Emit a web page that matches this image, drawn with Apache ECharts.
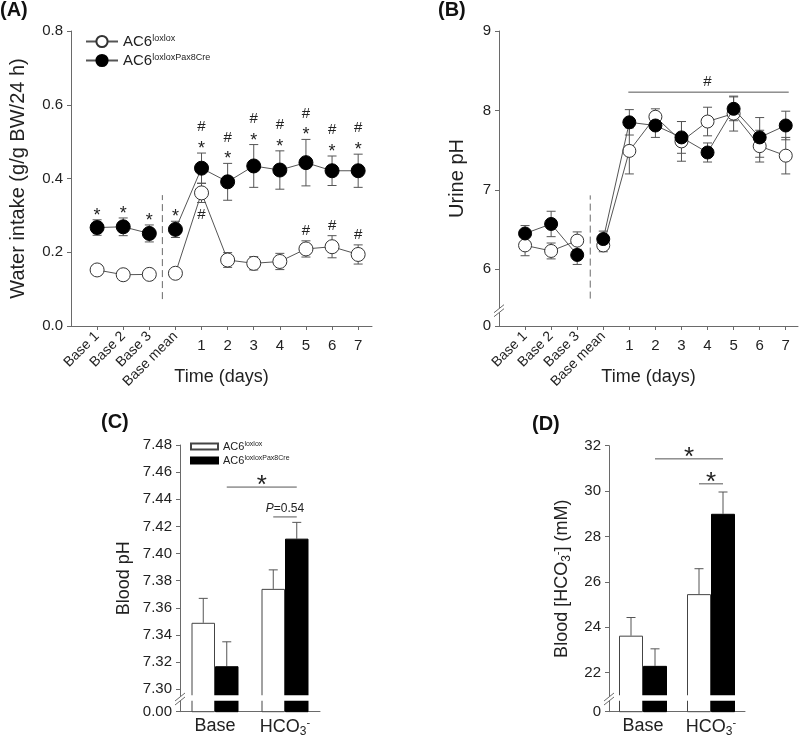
<!DOCTYPE html>
<html>
<head>
<meta charset="utf-8">
<script src="https://cdn.jsdelivr.net/npm/echarts@6/dist/echarts.min.js"></script>
<style>
  html, body { margin: 0; padding: 0; background: #fff; }
  #chart { width: 800px; height: 738px; }
</style>
</head>
<body>
<div id="chart"></div>
<script>
// ---- data ----
const timeLabels = ['Base 1', 'Base 2', 'Base 3', 'Base mean', '1', '2', '3', '4', '5', '6', '7'];

// (A) water intake, g/g BW/24 h
const waterWt = [0.152, 0.139, 0.140, 0.143, 0.361, 0.179, 0.170, 0.175, 0.209, 0.215, 0.194];
const waterWtErr = [0.005, 0.005, 0.005, 0.006, 0.026, 0.020, 0.018, 0.022, 0.022, 0.030, 0.026];
const waterKo = [0.267, 0.269, 0.251, 0.262, 0.428, 0.391, 0.434, 0.423, 0.443, 0.421, 0.421];
const waterKoErr = [0.021, 0.024, 0.023, 0.022, 0.041, 0.050, 0.058, 0.052, 0.063, 0.040, 0.045];

// (B) urine pH
const urineWt = [6.30, 6.23, 6.36, 6.30, 7.49, 7.92, 7.61, 7.86, 7.96, 7.55, 7.43];
const urineWtErr = [0.13, 0.10, 0.11, 0.08, 0.29, 0.10, 0.25, 0.18, 0.22, 0.20, 0.23];
const urineKo = [6.45, 6.57, 6.18, 6.38, 7.85, 7.81, 7.66, 7.47, 8.02, 7.66, 7.81];
const urineKoErr = [0.10, 0.16, 0.12, 0.10, 0.16, 0.15, 0.20, 0.12, 0.15, 0.25, 0.18];

// (C) blood pH, (D) blood bicarbonate
const barGroups = ['Base', 'HCO3'];
const bloodPhWt = [7.349, 7.374];
const bloodPhWtErr = [0.018, 0.014];
const bloodPhKo = [7.317, 7.411];
const bloodPhKoErr = [0.018, 0.012];
const bicarbWt = [23.63, 25.46];
const bicarbWtErr = [0.80, 1.12];
const bicarbKo = [22.30, 29.00];
const bicarbKoErr = [0.75, 0.96];

// significance marks (indices into timeLabels)
const starKoA = [0, 1, 2, 3, 4, 5, 6, 7, 8, 9, 10];
const hashKoA = [4, 5, 6, 7, 8, 9, 10];
const hashWtAboveA = [8, 9, 10];
const hashWtBelowA = [4];
const hashSpanB = [4, 10];
const hashLevelB = 8.23;

// axis extents (the bottom of B, C, D is a broken axis labelled 0)
const yTicksA = [0, 0.8];
const yRangeB = [5.285, 9];
const yRangeC = [7.2835, 7.48];
const yRangeD = [20.28, 32];
const dividerA = [3.5, 0.073, 0.355];
const dividerB = [3.5, 5.63, 6.93];

// brackets for C and D: [category, side, category, side, level, label]
const bracketsC = [[0, 1, 1, 1, 7.449, '*'], [1, -1, 1, 1, 7.427, 'P']];
const bracketsD = [[0, 1, 1, 1, 31.42, '*'], [1, -1, 1, 1, 30.32, '*']];

// ---- styling helpers ----
const INK = '#222';
const AXIS = '#6a6a6a';
const LINE = '#555';
const FONT = '"Liberation Sans", Arial, sans-serif';
const legendNames = { wtA: 'loxlox', koA: 'loxloxPax8Cre', wtC: 'loxlox', koC: 'loxloxPax8Cre' };

const chart = echarts.init(document.getElementById('chart'));

function pts(vals, from, to) {
  return vals.slice(from, to).map((v, k) => [from + k + 1, v]);
}

function errPts(vals, errs) {
  return vals.map((v, i) => [i + 1, v - errs[i], v + errs[i]]);
}

function errBar(params, api) {
  const lo = api.coord([api.value(0), api.value(1)]);
  const hi = api.coord([api.value(0), api.value(2)]);
  const w = 4.5;
  const st = { stroke: LINE, lineWidth: 1 };
  return {
    type: 'group', children: [
      { type: 'line', shape: { x1: lo[0], y1: lo[1], x2: hi[0], y2: hi[1] }, style: st },
      { type: 'line', shape: { x1: hi[0] - w, y1: hi[1], x2: hi[0] + w, y2: hi[1] }, style: st },
      { type: 'line', shape: { x1: lo[0] - w, y1: lo[1], x2: lo[0] + w, y2: lo[1] }, style: st }
    ]
  };
}

function dashed(params, api) {
  const a = api.coord([api.value(0), api.value(1)]);
  const b = api.coord([api.value(0), api.value(2)]);
  return {
    type: 'line', shape: { x1: a[0], y1: a[1], x2: b[0], y2: b[1] },
    style: { stroke: AXIS, lineWidth: 1, lineDash: [7, 4] }
  };
}

function textEl(x, y, text, size) {
  return {
    type: 'text', x: x, y: y,
    style: {
      text: text, fill: INK, fontSize: size, fontFamily: FONT,
      align: 'center', verticalAlign: 'middle', textAlign: 'center', textVerticalAlign: 'middle'
    }
  };
}

function marksA() {
  const m = [];
  starKoA.forEach(i => m.push([i + 1, waterKo[i] + waterKoErr[i], -4, '*']));
  hashKoA.forEach(i => m.push([i + 1, waterKo[i] + waterKoErr[i], -26, '#']));
  hashWtAboveA.forEach(i => m.push([i + 1, waterWt[i] + waterWtErr[i], -10, '#']));
  hashWtBelowA.forEach(i => m.push([i + 1, waterWt[i] - waterWtErr[i], 12, '#']));
  return m;
}
const annotA = marksA();

function slash(x, y) {
  return {
    type: 'group', children: [
      { type: 'polygon', shape: { points: [[x - 5, y + 5], [x + 5, y - 3], [x + 5, y - 7], [x - 5, y + 1]] }, style: { fill: '#fff' } },
      { type: 'line', shape: { x1: x - 5, y1: y + 5, x2: x + 5, y2: y - 3 }, style: { stroke: AXIS, lineWidth: 1 } },
      { type: 'line', shape: { x1: x - 5, y1: y + 1, x2: x + 5, y2: y - 7 }, style: { stroke: AXIS, lineWidth: 1 } }
    ]
  };
}

// sub/superscript pieces for HCO3-
const chemRich = {
  n: { fontSize: 18, fontFamily: FONT, color: INK },
  sub: { fontSize: 12, fontFamily: FONT, color: INK, padding: [9, 0, 0, 0] },
  sup: { fontSize: 11, fontFamily: FONT, color: INK, padding: [0, 0, 9, 0] }
};

// ---- axes ----
function timeAxes(gridIndex, max) {
  const near = (v, a, b) => Math.abs(v - Math.round(v)) < 1e-6 && v >= a && v <= b;
  const nameStyle = { fontSize: 18, color: INK, fontFamily: FONT };
  return [{
    type: 'value', gridIndex: gridIndex, min: 0, max: max, interval: 1, position: 'bottom',
    axisLine: { onZero: false, lineStyle: { color: AXIS } },
    axisTick: { show: true, length: 4, customValues: timeLabels.map((t, i) => i + 1), lineStyle: { color: AXIS } },
    axisLabel: {
      rotate: 45, margin: 8, fontSize: 14, color: INK, fontFamily: FONT,
      customValues: [1, 2, 3, 4],
      formatter: v => near(v, 1, 4) ? timeLabels[Math.round(v) - 1] : ''
    },
    splitLine: { show: false },
    name: 'Time (days)', nameLocation: 'middle', nameGap: 42, nameMoveOverlap: false, nameTextStyle: nameStyle
  }, {
    type: 'value', gridIndex: gridIndex, min: 0, max: max, interval: 1, position: 'bottom',
    axisLine: { show: false }, axisTick: { show: false },
    axisLabel: {
      margin: 12, fontSize: 15, color: INK, fontFamily: FONT,
      customValues: [5, 6, 7, 8, 9, 10, 11],
      formatter: v => near(v, 5, 11) ? timeLabels[Math.round(v) - 1] : ''
    },
    splitLine: { show: false }
  }];
}

function yAxis(gridIndex, min, max, extra) {
  return Object.assign({
    type: 'value', gridIndex: gridIndex, min: min, max: max,
    axisLine: { show: true, onZero: false, lineStyle: { color: AXIS } },
    axisTick: { show: true, length: 4, lineStyle: { color: AXIS } },
    axisLabel: { fontSize: 15, color: INK, fontFamily: FONT, margin: 8 },
    splitLine: { show: false },
    nameLocation: 'middle', nameMoveOverlap: false,
    nameTextStyle: { fontSize: 20, color: INK, fontFamily: FONT }
  }, extra);
}

function barAxis(gridIndex) {
  return {
    type: 'category', gridIndex: gridIndex, data: barGroups,
    axisLine: { onZero: false, lineStyle: { color: AXIS } },
    axisTick: { show: false },
    axisLabel: {
      interval: 0, margin: 5, color: INK, fontFamily: FONT,
      formatter: v => v === 'HCO3' ? '{n|HCO}{sub|3}{sup|-}' : '{n|' + v + '}',
      rich: chemRich
    }
  };
}

// ---- series helpers ----
function lineSeries(name, xi, yi, data, filled, size) {
  return {
    type: 'line', name: name, xAxisIndex: xi, yAxisIndex: yi, data: data,
    symbol: 'circle', symbolSize: size, z: filled ? 4 : 3,
    lineStyle: { color: LINE, width: 1 },
    itemStyle: filled ? { color: '#000', borderColor: '#000', borderWidth: 1 } : { color: '#fff', borderColor: '#333', borderWidth: 1 },
    emphasis: { disabled: true }, animation: false
  };
}

function customSeries(xi, yi, data, renderItem, z) {
  return {
    type: 'custom', xAxisIndex: xi, yAxisIndex: yi, data: data, renderItem: renderItem,
    z: z, clip: false, silent: true, animation: false,
    encode: { x: 0, y: 1 }
  };
}

function barSeries(name, xi, yi, data, filled, width) {
  return {
    type: 'bar', name: name, xAxisIndex: xi, yAxisIndex: yi, data: data,
    barWidth: width, barGap: '0%', z: 2,
    itemStyle: filled ? { color: '#000', borderColor: '#000', borderWidth: 1 } : { color: '#fff', borderColor: '#444', borderWidth: 1 },
    emphasis: { disabled: true }, animation: false
  };
}

function barErr(width) {
  return function (params, api) {
    const c = api.value(0), top = api.value(1), err = api.value(2), side = api.value(3);
    const p = api.coord([c, top]);
    const q = api.coord([c, top + err]);
    const x = p[0] + side * width / 2;
    const st = { stroke: LINE, lineWidth: 1 };
    return {
      type: 'group', children: [
        { type: 'line', shape: { x1: x, y1: p[1], x2: x, y2: q[1] }, style: st },
        { type: 'line', shape: { x1: x - 4.5, y1: q[1], x2: x + 4.5, y2: q[1] }, style: st }
      ]
    };
  };
}

function barErrData(vals, errs, side) {
  return vals.map((v, i) => [i, v, errs[i], side]);
}

function breakBand(width) {
  return function (params, api) {
    const p = api.coord([api.value(0), api.value(1)]);
    return {
      type: 'rect', shape: { x: p[0] - width - 1, y: p[1] - 16.5, width: 2 * width + 2, height: 5.5 },
      style: { fill: '#fff' }
    };
  };
}

function barSlash(params, api) {
  const p = api.coord([0, api.value(1)]);
  const band = api.size([1, 0])[0];
  return slash(p[0] - band / 2, p[1] - 11.7);
}

function brackets(list, width, yi, xi) {
  return customSeries(xi, yi, list.map(b => [b[0], b[4], b[2], b[1], b[3]]), function (params, api) {
    const b = list[params.dataIndex];
    const a = api.coord([b[0], b[4]]);
    const c = api.coord([b[2], b[4]]);
    const x1 = a[0] + b[1] * width / 2, x2 = c[0] + b[3] * width / 2;
    const mid = (x1 + x2) / 2;
    const kids = [{ type: 'line', shape: { x1: x1, y1: a[1], x2: x2, y2: a[1] }, style: { stroke: LINE, lineWidth: 1 } }];
    if (b[5] === '*') {
      kids.push(textEl(mid, a[1] - 1, '*', 26));
    } else {
      kids.push({
        type: 'text', x: mid, y: a[1] - 8,
        style: {
          text: '{i|P}{n|=0.54}', align: 'center', verticalAlign: 'middle',
          rich: {
            i: { fontSize: 12, fontStyle: 'italic', fontFamily: FONT, fill: INK, color: INK },
            n: { fontSize: 12, fontFamily: FONT, fill: INK, color: INK }
          }
        }
      });
    }
    return { type: 'group', children: kids };
  }, 6);
}

const legendText = {
  fontSize: 15, color: INK, fontFamily: FONT,
  rich: {
    b: { fontSize: 15, color: INK, fontFamily: FONT },
    s: { fontSize: 9, color: INK, fontFamily: FONT, verticalAlign: 'top' }
  }
};
const legendTextSmall = {
  fontSize: 11, color: INK, fontFamily: FONT,
  rich: {
    b: { fontSize: 11, color: INK, fontFamily: FONT },
    s: { fontSize: 7, color: INK, fontFamily: FONT, verticalAlign: 'top' }
  }
};

const titleStyle = { fontSize: 20, fontWeight: 'bold', color: '#111', fontFamily: FONT };

const option = {
  backgroundColor: '#fff',
  animation: false,
  title: [
    { text: '(A)', left: 0, top: 0, padding: 0, textStyle: titleStyle },
    { text: '(B)', left: 438, top: 0, padding: 0, textStyle: titleStyle },
    { text: '(C)', left: 101, top: 412, padding: 0, textStyle: titleStyle },
    { text: '(D)', left: 532, top: 414, padding: 0, textStyle: titleStyle }
  ],
  legend: [{
    data: ['wtA', 'koA'], orient: 'vertical', left: 85, top: 34, padding: 0,
    itemWidth: 32, itemHeight: 14, itemGap: 4, selectedMode: false,
    formatter: n => '{b|AC6}{s|' + legendNames[n] + '}', textStyle: legendText
  }, {
    data: ['wtC', 'koC'], orient: 'vertical', left: 190, top: 441, padding: 0,
    itemWidth: 27, itemHeight: 6, itemGap: 3, icon: 'rect', selectedMode: false,
    formatter: n => '{b|AC6}{s|' + legendNames[n] + '}', textStyle: legendTextSmall
  }],
  grid: [
    { left: 71, top: 31, width: 301, height: 295, outerBoundsMode: 'none', containLabel: false },
    { left: 499, top: 31, width: 299, height: 295, outerBoundsMode: 'none', containLabel: false },
    { left: 180, top: 445, width: 140, height: 266.7, outerBoundsMode: 'none', containLabel: false },
    { left: 609, top: 445.7, width: 136, height: 266, outerBoundsMode: 'none', containLabel: false }
  ],
  xAxis: [].concat(timeAxes(0, 11.53), timeAxes(1, 11.47), [barAxis(2), barAxis(3)]),
  yAxis: [
    yAxis(0, yTicksA[0], yTicksA[1], {
      interval: 0.2, axisLabel: { fontSize: 15, color: INK, fontFamily: FONT, margin: 8, formatter: v => v.toFixed(1) },
      name: 'Water intake (g/g BW/24 h)', nameGap: 43
    }),
    yAxis(1, yRangeB[0], yRangeB[1], {
      splitNumber: 4,
      axisLabel: { fontSize: 15, color: INK, fontFamily: FONT, margin: 8, formatter: v => v < 5.9 ? '0' : String(Math.round(v)) },
      name: 'Urine pH', nameGap: 32
    }),
    yAxis(2, yRangeC[0], yRangeC[1], {
      splitNumber: 10,
      axisLabel: { fontSize: 15, color: INK, fontFamily: FONT, margin: 8, formatter: v => v < 7.295 ? '0.00' : v.toFixed(2) },
      name: 'Blood pH', nameGap: 47, nameTextStyle: { fontSize: 18, color: INK, fontFamily: FONT }
    }),
    yAxis(3, yRangeD[0], yRangeD[1], {
      splitNumber: 6,
      axisLabel: { fontSize: 15, color: INK, fontFamily: FONT, margin: 8, formatter: v => v < 21 ? '0' : String(Math.round(v)) },
      name: '{n|Blood [HCO}{sub|3}{sup|-}{n|] (mM)}', nameGap: 36,
      nameTextStyle: { fontSize: 18, color: INK, fontFamily: FONT, rich: chemRich }
    })
  ],
  series: [
    // (A)
    customSeries(0, 0, errPts(waterWt, waterWtErr), errBar, 1),
    customSeries(0, 0, errPts(waterKo, waterKoErr), errBar, 1),
    customSeries(0, 0, [dividerA], dashed, 1),
    lineSeries('wtA', 0, 0, pts(waterWt, 0, 3), false, 14),
    lineSeries('wtA', 0, 0, pts(waterWt, 3, 11), false, 14),
    lineSeries('koA', 0, 0, pts(waterKo, 0, 3), true, 14),
    lineSeries('koA', 0, 0, pts(waterKo, 3, 11), true, 14),
    customSeries(0, 0, annotA.map(m => [m[0], m[1]]), function (params, api) {
      const m = annotA[params.dataIndex];
      const p = api.coord([m[0], m[1]]);
      return textEl(p[0], p[1] + m[2], m[3], m[3] === '*' ? 18 : 15);
    }, 6),
    // (B)
    customSeries(2, 1, errPts(urineWt, urineWtErr), errBar, 1),
    customSeries(2, 1, errPts(urineKo, urineKoErr), errBar, 1),
    customSeries(2, 1, [dividerB], dashed, 1),
    lineSeries('wtB', 2, 1, pts(urineWt, 0, 3), false, 13),
    lineSeries('wtB', 2, 1, pts(urineWt, 3, 11), false, 13),
    lineSeries('koB', 2, 1, pts(urineKo, 0, 3), true, 13),
    lineSeries('koB', 2, 1, pts(urineKo, 3, 11), true, 13),
    customSeries(2, 1, [[hashSpanB[0] + 1, hashLevelB, hashSpanB[1] + 1]], function (params, api) {
      const a = api.coord([api.value(0), api.value(1)]);
      const b = api.coord([api.value(2), api.value(1)]);
      const mid = api.coord([(hashSpanB[0] + hashSpanB[1]) / 2 + 1, api.value(1)]);
      return {
        type: 'group', children: [
          { type: 'line', shape: { x1: a[0] - 1, y1: a[1], x2: b[0] + 3, y2: b[1] }, style: { stroke: LINE, lineWidth: 1 } },
          textEl(mid[0], a[1] - 10, '#', 15)
        ]
      };
    }, 6),
    customSeries(2, 1, [[0, yRangeB[0]]], function (params, api) {
      const p = api.coord([0, api.value(1)]);
      return slash(p[0], p[1] - 14.3);
    }, 6),
    // (C)
    barSeries('wtC', 4, 2, bloodPhWt, false, 23.5),
    barSeries('koC', 4, 2, bloodPhKo, true, 23.5),
    customSeries(4, 2, barErrData(bloodPhWt, bloodPhWtErr, -1).concat(barErrData(bloodPhKo, bloodPhKoErr, 1)), barErr(23.5), 1),
    customSeries(4, 2, [[0, yRangeC[0]], [1, yRangeC[0]]], breakBand(23.5), 5),
    customSeries(4, 2, [[0, yRangeC[0]]], barSlash, 6),
    brackets(bracketsC, 23.5, 2, 4),
    // (D)
    barSeries('wtD', 5, 3, bicarbWt, false, 24),
    barSeries('koD', 5, 3, bicarbKo, true, 24),
    customSeries(5, 3, barErrData(bicarbWt, bicarbWtErr, -1).concat(barErrData(bicarbKo, bicarbKoErr, 1)), barErr(24), 1),
    customSeries(5, 3, [[0, yRangeD[0]], [1, yRangeD[0]]], breakBand(24), 5),
    customSeries(5, 3, [[0, yRangeD[0]]], barSlash, 6),
    brackets(bracketsD, 24, 3, 5)
  ]
};

chart.setOption(option);
</script>
</body>
</html>
